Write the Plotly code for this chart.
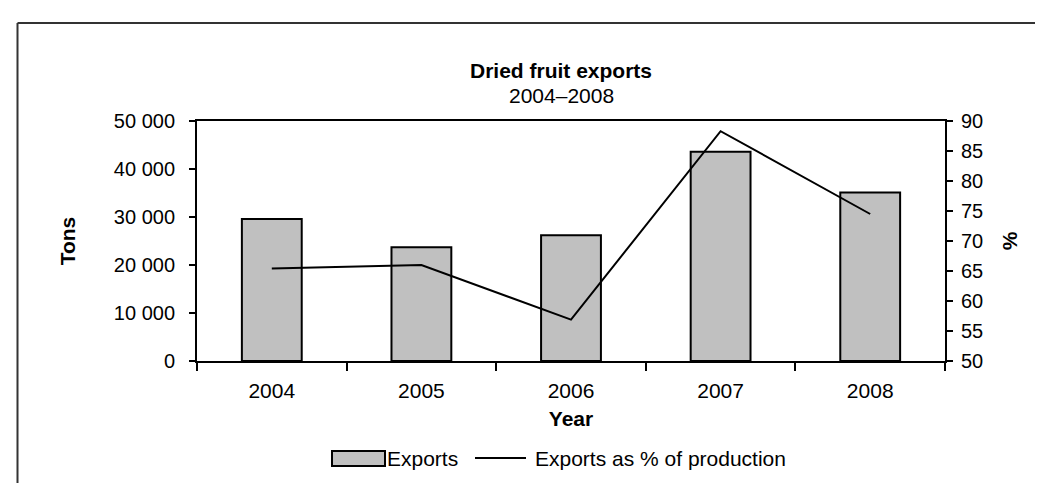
import plotly.graph_objects as go

years = ["2004", "2005", "2006", "2007", "2008"]
exports_tons = [29600, 23700, 26200, 43600, 35100]
exports_pct = [65.4, 66.0, 56.9, 88.3, 74.5]

left_ticks = [0, 10000, 20000, 30000, 40000, 50000]
left_labels = ["0", "10 000", "20 000", "30 000", "40 000", "50 000"]
right_ticks = [50, 55, 60, 65, 70, 75, 80, 85, 90]

font_name = "Liberation Sans, Arial, sans-serif"


def px_x(px):
    # pixel column -> paper x (plot area spans 189..937)
    return (px - 189) / 748


def px_y(py):
    # pixel row -> paper y (plot area spans 113..353)
    return (353 - py) / 240


fig = go.Figure()

fig.add_trace(go.Bar(
    x=years,
    y=exports_tons,
    name="Exports",
    marker=dict(color="#C0C0C0", line=dict(color="black", width=2)),
    width=0.4,
    showlegend=False,
))

fig.add_trace(go.Scatter(
    x=years,
    y=exports_pct,
    name="Exports as % of production",
    mode="lines",
    line=dict(color="black", width=2),
    yaxis="y2",
    showlegend=False,
))

axis_line = dict(showline=True, linecolor="black", linewidth=2,
                 ticks="outside", tickwidth=2, tickcolor="black",
                 showgrid=False)

fig.update_layout(
    width=1043,
    height=483,
    margin=dict(l=189, r=106, t=113, b=130),
    paper_bgcolor="white",
    plot_bgcolor="white",
    font=dict(family=font_name, size=21, color="black"),
    xaxis=dict(
        type="category",
        mirror=True,
        tickson="boundaries",
        ticklen=8,
        ticklabelstandoff=10,
        title=dict(text="<b>Year</b>", standoff=10, font=dict(size=21)),
        **axis_line,
    ),
    yaxis=dict(
        range=[0, 50000],
        tickvals=left_ticks,
        ticktext=left_labels,
        ticklen=6,
        ticklabelstandoff=10,
        tickfont=dict(size=20),
        zeroline=False,
        title=dict(text="<b>Tons</b>", standoff=32, font=dict(size=21)),
        **axis_line,
    ),
    yaxis2=dict(
        overlaying="y",
        side="right",
        range=[50, 90],
        tickvals=right_ticks,
        ticklen=6,
        ticklabelstandoff=4,
        tickfont=dict(size=20),
        zeroline=False,
        title=dict(text="<b>%</b>", standoff=20, font=dict(size=21)),
        **axis_line,
    ),
    annotations=[
        dict(text="<b>Dried fruit exports</b>", xref="paper", yref="paper",
             x=px_x(553), y=px_y(62), xanchor="center", yanchor="middle",
             showarrow=False),
        dict(text="2004–2008", xref="paper", yref="paper",
             x=px_x(553), y=px_y(88), xanchor="center", yanchor="middle",
             showarrow=False),
        # legend labels
        dict(text="Exports", xref="paper", yref="paper",
             x=px_x(377), y=px_y(450), xanchor="left", yanchor="middle",
             showarrow=False),
        dict(text="Exports as % of production", xref="paper", yref="paper",
             x=px_x(525), y=px_y(450), xanchor="left", yanchor="middle",
             showarrow=False),
    ],
    shapes=[
        # outer frame (top and left edges)
        dict(type="line", xref="paper", yref="paper",
             x0=px_x(9.5), y0=px_y(15), x1=px_x(1100), y1=px_y(15),
             line=dict(color="#333333", width=2)),
        dict(type="line", xref="paper", yref="paper",
             x0=px_x(9.5), y0=px_y(15), x1=px_x(9.5), y1=px_y(520),
             line=dict(color="#333333", width=2)),
        # legend symbols
        dict(type="rect", xref="paper", yref="paper",
             x0=px_x(324), y0=px_y(443), x1=px_x(377), y1=px_y(458),
             fillcolor="#C0C0C0", line=dict(color="black", width=2)),
        dict(type="line", xref="paper", yref="paper",
             x0=px_x(467), y0=px_y(450), x1=px_x(518), y1=px_y(450),
             line=dict(color="black", width=2)),
    ],
)

fig.write_html("out.html")
